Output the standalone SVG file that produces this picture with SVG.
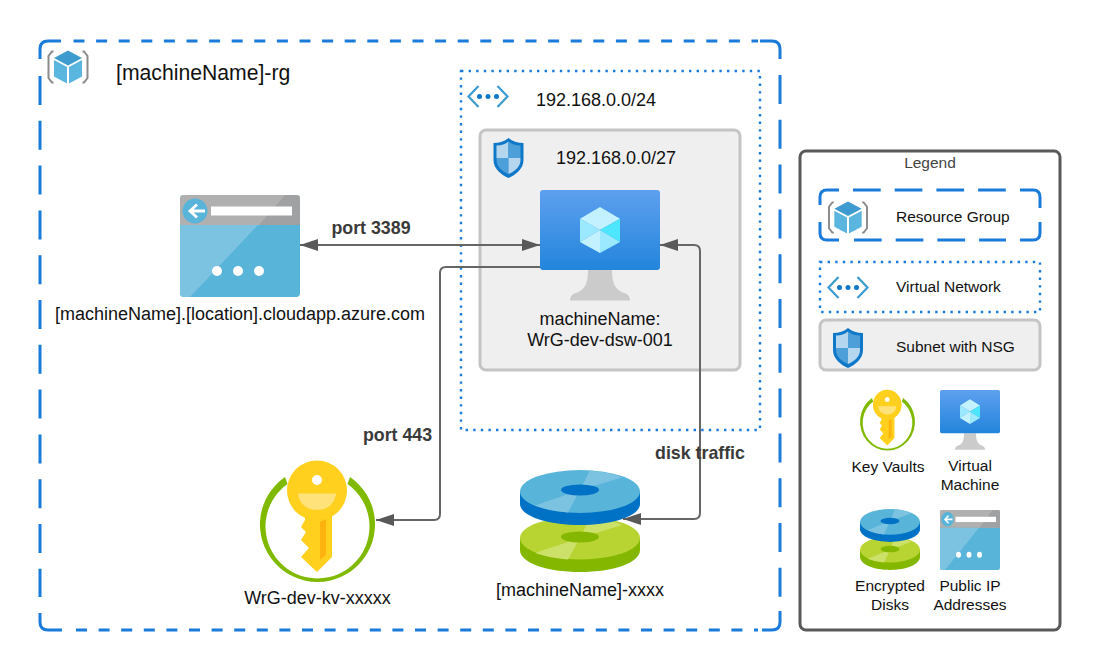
<svg xmlns="http://www.w3.org/2000/svg" width="1100" height="670" viewBox="0 0 1100 670">
<style>
text{font-family:"Liberation Sans",Arial,sans-serif;fill:#111;text-anchor:middle}
.s{text-anchor:start}
.m{font-size:18px}
.l{font-size:15.5px}
.b{font-weight:bold;fill:#3a3a3a;font-size:17.8px}
.rg{fill:none;stroke:#1a7bdb;stroke-width:3}
.rh{stroke-dasharray:11 11.6}
.rv{stroke-dasharray:29 15.8}
.lh{stroke-dasharray:27.7 14}
.vn{fill:none;stroke:#1a7bdb;stroke-width:2.4;stroke-dasharray:2.4 5.2}
.sn{fill:#efefef;stroke:#c4c4c4;stroke-width:3}
.c{fill:none;stroke:#666;stroke-width:2}
</style>
<defs>
<linearGradient id="vmg" x1="0" y1="0" x2="0" y2="1"><stop offset="0" stop-color="#5ea0ef"/><stop offset="1" stop-color="#2285dc"/></linearGradient>
<marker id="a" viewBox="0 0 18 12" refX="18" refY="6" markerUnits="userSpaceOnUse" markerWidth="18" markerHeight="12" orient="auto-start-reverse"><path d="M0 0L18 6L0 12Z" fill="#595959"/></marker>
<symbol id="cube" viewBox="0 0 41 33" overflow="visible">
<path d="M6 1H4.500L1 5.500V27.500L4.500 32H6" fill="none" stroke="#8a8a8a" stroke-width="2"/>
<path d="M35 1H36.500L40 5.500V27.500L36.500 32H35" fill="none" stroke="#8a8a8a" stroke-width="2"/>
<path d="M20.500 0L34.500 7.500L20.500 15L6.500 7.500Z" fill="#3d9bd0"/>
<path d="M6.500 9.500L19.500 16.500V33L6.500 26Z" fill="#5bb6df"/>
<path d="M34.500 9.500L21.500 16.500V33L34.500 26Z" fill="#5bb6df"/>
</symbol>
<symbol id="vnet" viewBox="0 0 42 23" overflow="visible">
<path d="M11.500 1L1.500 11.500L11.500 22" fill="none" stroke="#3d9bd0" stroke-width="2.200"/>
<path d="M30.500 1L40.500 11.500L30.500 22" fill="none" stroke="#3d9bd0" stroke-width="2.200"/>
<circle cx="12.500" cy="11.500" r="2.500" fill="#0b78c9"/><circle cx="21" cy="11.500" r="2.500" fill="#0b78c9"/><circle cx="29.500" cy="11.500" r="2.500" fill="#0b78c9"/>
</symbol>
<symbol id="shield" viewBox="0 0 30 40" overflow="visible">
<path d="M15 0C11 3.500 6 5 0 5V22C0 31 8 37 15 40C22 37 30 31 30 22V5C24 5 19 3.500 15 0Z" fill="#0f78c8"/>
<path d="M15 3.500V20H3V7.500C8 7.500 12 6 15 3.500Z" fill="#b4d6ee"/>
<path d="M15 3.500C18 6 22 7.500 27 7.500V20H15Z" fill="#4c9fd8"/>
<path d="M3 20H15V36C9 33.500 3 29 3 22Z" fill="#4c9fd8"/>
<path d="M15 20H27V22C27 29 21 33.500 15 36Z" fill="#b4d6ee"/>
</symbol>
<symbol id="vm" viewBox="0 0 120 111" preserveAspectRatio="none" overflow="visible">
<path d="M48 80H72C72 95 76 100 84 103C88 104 90 107 90 110.500H30C30 107 32 104 36 103C44 100 48 95 48 80Z" fill="#cbcbcb"/>
<rect width="120" height="80" rx="3" fill="url(#vmg)"/>
<path d="M60 17L80 28.700L60 40L40 28.700Z" fill="#c4f1ff"/>
<path d="M40 28.700L60 40L40 52Z" fill="#9be9ff"/>
<path d="M80 28.700L60 40L80 52Z" fill="#4de6ff"/>
<path d="M40 52L60 40V63Z" fill="#c3f1ff"/>
<path d="M80 52L60 40V63Z" fill="#9be9ff"/>
</symbol>
<symbol id="ip" viewBox="0 0 120 102" preserveAspectRatio="none" overflow="visible">
<path d="M4 0H116Q120 0 120 4V98Q120 102 116 102H4Q0 102 0 98V4Q0 0 4 0Z" fill="#59b4d9"/>
<path d="M0 30H78L10 102H4Q0 102 0 98Z" fill="#7cc3e2"/>
<path d="M4 0H116Q120 0 120 4V30H0V4Q0 0 4 0Z" fill="#b0b0b0"/>
<path d="M105 0H116Q120 0 120 4V30H79Z" fill="#a0a1a3"/>
<rect x="31" y="11.500" width="81" height="9" fill="#fff"/>
<circle cx="15" cy="16" r="12.500" fill="#59b4d9"/>
<path d="M25 16H11M17 9.500L10 16L17 22.500" fill="none" stroke="#fff" stroke-width="2.800"/>
<circle cx="37" cy="76" r="5" fill="#fff"/><circle cx="58" cy="76" r="5" fill="#fff"/><circle cx="79" cy="76" r="5" fill="#fff"/>
</symbol>
<symbol id="key" viewBox="0 0 115 120" preserveAspectRatio="none" overflow="visible">
<path d="M25 16A57.500 57.500 0 1 0 90 16L87.500 23A52 52 0 1 1 27.500 23Z" fill="#7fba00"/>
<circle cx="57" cy="29.500" r="30" fill="#ffd01d"/>
<path d="M45 50H72V96L57 111L41 96L49 87L41 79L46 71L41 66L45 59Z" fill="#ffd01d"/>
<path d="M38 32.500H76C75 43 67 49 57 49C47 49 39 43 38 32.500Z" fill="#ffe27a"/>
<circle cx="57" cy="19" r="5" fill="#fff"/>
<path d="M60 60.700L66 58V94L60 99Z" fill="#ffb30f"/>
</symbol>
<symbol id="disk" viewBox="0 0 120 102" preserveAspectRatio="none" overflow="visible">
<path d="M0 68V80C0 93 27 102 60 102C93 102 120 93 120 80V68Z" fill="#84b800"/>
<ellipse cx="60" cy="68" rx="60" ry="21.500" fill="#b8d432"/>
<path d="M70 47.500Q90 49 102 55L60 68Z" fill="#cce169"/>
<path d="M15 83Q30 88 48 89.500L60 68Z" fill="#cce169"/>
<ellipse cx="60" cy="67" rx="19" ry="5.500" fill="#84b800"/>
<path d="M0 21V34C0 46 27 55 60 55C93 55 120 46 120 34V21Z" fill="#0072c6"/>
<ellipse cx="60" cy="21.500" rx="60" ry="21.500" fill="#59b4d9"/>
<path d="M70 0.500Q90 2 102 7.500L60 20Z" fill="#7cc3e2"/>
<path d="M15 35.500Q30 41 48 42.500L60 20Z" fill="#7cc3e2"/>
<ellipse cx="60" cy="20" rx="19" ry="5.500" fill="#0072c6"/>
</symbol>
</defs>

<g id="resource-group">
<path class="rg" d="M40 59V49Q40 41 48 41H61"/>
<path class="rg" d="M760 41H772Q780 41 780 49V59"/>
<path class="rg" d="M40 613V622Q40 630 48 630H62"/>
<path class="rg" d="M762 630H772Q780 630 780 622V611"/>
<path class="rg rh" d="M73.500 41H758"/>
<path class="rg rh" d="M76 630H758"/>
<path class="rg rv" d="M40 76V597"/>
<path class="rg rv" d="M780 75V597"/>
<use href="#cube" x="47.500" y="50.500" width="41" height="33"/>
<text class="s" x="116" y="80" font-size="21.200">[machineName]-rg</text>
</g>
<g id="virtual-network">
<rect class="vn" x="461" y="71" width="299" height="359"/>
<use href="#vnet" x="467" y="85" width="42" height="23"/>
<text class="m s" x="536" y="106">192.168.0.0/24</text>
</g>
<g id="subnet">
<rect class="sn" x="480" y="130" width="260" height="240" rx="6"/>
<use href="#shield" x="493.500" y="138" width="30" height="40"/>
<text class="m s" x="556" y="164">192.168.0.0/27</text>
</g>
<g id="vm-node">
<use href="#vm" x="540" y="190" width="120" height="111"/>
<text class="m" x="600" y="325">machineName:</text>
<text class="m" x="600" y="346">WrG-dev-dsw-001</text>
</g>
<g id="public-ip-node">
<use href="#ip" x="180" y="195" width="120" height="102"/>
<text class="m" x="240" y="320">[machineName].[location].cloudapp.azure.com</text>
</g>
<g id="key-vault-node">
<use href="#key" x="260" y="461" width="115" height="120"/>
<text class="m" x="317.500" y="604">WrG-dev-kv-xxxxx</text>
</g>
<g id="disk-node">
<use href="#disk" x="520" y="470" width="120" height="102"/>
<text class="m" x="580" y="596">[machineName]-xxxx</text>
</g>

<g id="connectors">
<path class="c" d="M300 245H540" marker-start="url(#a)" marker-end="url(#a)"/>
<path class="c" d="M540 267H446Q440 267 440 273V514Q440 520 434 520H376" marker-end="url(#a)"/>
<path class="c" d="M660 245H694Q700 245 700 251V513Q700 519 694 519H623" marker-start="url(#a)" marker-end="url(#a)"/>
<text class="b" x="371" y="234">port 3389</text>
<text class="b" x="397.500" y="441">port 443</text>
<text class="b" x="700" y="459">disk traffic</text>
</g>

<g id="legend">
<rect x="800" y="151" width="260" height="479" rx="6" fill="#fff" stroke="#595959" stroke-width="3"/>
<text class="l" x="930" y="168" style="fill:#444">Legend</text>
<path class="rg" d="M820 205V197Q820 190 827 190H839"/>
<path class="rg" d="M1020 190H1033Q1040 190 1040 197V208"/>
<path class="rg" d="M820 222V233Q820 240 827 240H839"/>
<path class="rg" d="M1020 240H1033Q1040 240 1040 233V222"/>
<path class="rg lh" d="M853 190H1006"/>
<path class="rg lh" d="M854 240H1006"/>
<use href="#cube" x="828" y="201" width="40" height="33"/>
<text class="l s" x="896" y="222">Resource Group</text>
<rect class="vn" x="820" y="262" width="220" height="50"/>
<use href="#vnet" x="827" y="276" width="42" height="23"/>
<text class="l s" x="896" y="292">Virtual Network</text>
<rect class="sn" x="820" y="320" width="220" height="50" rx="6"/>
<use href="#shield" x="833" y="328" width="30" height="40"/>
<text class="l s" x="896" y="352">Subnet with NSG</text>
<use href="#key" x="860" y="390" width="55" height="60"/>
<text class="l" x="888" y="472">Key Vaults</text>
<use href="#vm" x="940" y="390" width="60" height="60"/>
<text class="l" x="970" y="471">Virtual</text>
<text class="l" x="970" y="490">Machine</text>
<use href="#disk" x="860" y="509" width="60" height="61"/>
<text class="l" x="890" y="591">Encrypted</text>
<text class="l" x="890" y="610">Disks</text>
<use href="#ip" x="940" y="510" width="60" height="60"/>
<text class="l" x="970" y="591">Public IP</text>
<text class="l" x="970" y="610">Addresses</text>
</g>
</svg>
